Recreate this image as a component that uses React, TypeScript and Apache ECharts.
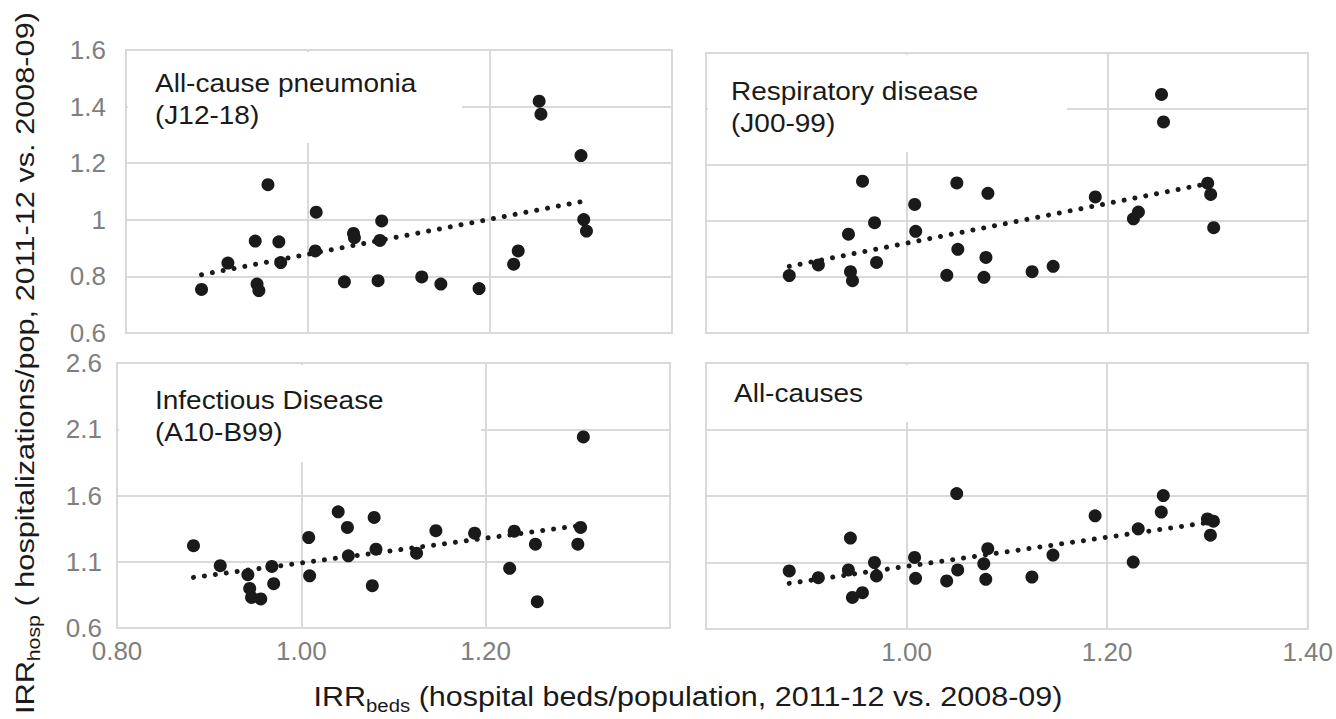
import React, { useEffect, useRef } from 'react';
import * as echarts from 'echarts';

// Shared x: IRR of hospital beds per region (2011-12 vs 2008-09)
const bedsIRR = [
  0.883, 0.912, 0.942, 0.944, 0.946, 0.956, 0.968, 0.970, 1.008, 1.009, 1.040, 1.050, 1.051,
  1.077, 1.079, 1.081, 1.125, 1.146, 1.188, 1.226, 1.231, 1.254, 1.256, 1.300, 1.303, 1.306,
];

const pneumoniaIRR = [
  0.754, 0.847, 0.925, 0.773, 0.750, 1.124, 0.922, 0.849, 0.890, 1.027, 0.781, 0.952, 0.937,
  0.785, 0.927, 0.996, 0.798, 0.773, 0.757, 0.843, 0.890, 1.419, 1.373, 1.227, 1.001, 0.960,
];

const respiratoryIRR = [
  0.805, 0.843, 0.953, 0.819, 0.787, 1.142, 0.994, 0.852, 1.059, 0.963, 0.806, 1.136, 0.899,
  0.799, 0.870, 1.099, 0.819, 0.838, 1.086, 1.008, 1.032, 1.452, 1.354, 1.135, 1.095, 0.976,
];

const infectiousIRR = [
  1.221, 1.070, 1.002, 0.899, 0.831, 0.819, 1.065, 0.934, 1.283, 0.994, 1.477, 1.359, 1.145,
  0.919, 1.434, 1.195, 1.165, 1.334, 1.316, 1.050, 1.331, 1.233, 0.799, 1.233, 1.359, 2.042,
];

const allCausesIRR = [
  1.037, 0.986, 1.044, 1.284, 0.837, 0.873, 1.100, 0.999, 1.138, 0.981, 0.961, 1.618, 1.044,
  1.090, 0.974, 1.204, 0.991, 1.156, 1.451, 1.103, 1.353, 1.479, 1.603, 1.428, 1.305, 1.411,
];

// Linear trendline endpoints
const pneumoniaTrend = [[0.883, 0.806], [1.305, 1.067]];
const respiratoryTrend = [[0.883, 0.838], [1.305, 1.137]];
const infectiousTrend = [[0.883, 0.982], [1.305, 1.376]];
const allCausesTrend = [[0.883, 0.943], [1.305, 1.405]];

const panelTitles = [
  'All-cause pneumonia\n(J12-18)',
  'Respiratory disease\n(J00-99)',
  'Infectious Disease\n(A10-B99)',
  'All-causes',
];

const xScale = { min: 0.8, max: 1.4, interval: 0.2 };
const topYScale = { min: 0.6, max: 1.6, interval: 0.2 };
const bottomYScale = { min: 0.6, max: 2.6, interval: 0.5 };

const FONT = '"Liberation Sans", Arial, sans-serif';
const GRID_COLOR = '#d9d9d9';
const LABEL_COLOR = '#7f7f7f';
const INK = '#1a1a1a';

export default function App() {
  const ref = useRef<HTMLDivElement>(null);

  useEffect(() => {
    if (!ref.current) return;
    const chart = echarts.init(ref.current, null, { renderer: 'svg' });

    const panels = [
      { ys: pneumoniaIRR, trend: pneumoniaTrend, yScale: topYScale },
      { ys: respiratoryIRR, trend: respiratoryTrend, yScale: topYScale },
      { ys: infectiousIRR, trend: infectiousTrend, yScale: bottomYScale },
      { ys: allCausesIRR, trend: allCausesTrend, yScale: bottomYScale },
    ];

    const gridBoxes = [
      { left: 126, top: 50, width: 546, height: 283 },
      { left: 706, top: 53, width: 602, height: 280 },
      { left: 117, top: 363, width: 553, height: 265 },
      { left: 706, top: 363, width: 604, height: 266 },
    ];

    const grid = gridBoxes.map((g) => ({
      ...g,
      show: true,
      borderColor: GRID_COLOR,
      borderWidth: 2,
      backgroundColor: 'transparent',
      containLabel: false,
    }));

    const splitLine = { show: true, lineStyle: { color: GRID_COLOR, width: 2 } };

    const xAxis = panels.map((_, i) => ({
      type: 'value',
      gridIndex: i,
      ...xScale,
      axisLine: { show: false },
      axisTick: { show: false },
      splitLine,
      axisLabel: {
        show: i >= 2,
        color: LABEL_COLOR,
        fontSize: 26,
        fontFamily: FONT,
        margin: 10,
        formatter: (v: number) => {
          if (i === 2 && v > 1.35) return '';
          if (i === 3 && v < 0.85) return '';
          return v.toFixed(2);
        },
      },
    }));

    const yAxis = panels.map((p, i) => ({
      type: 'value',
      gridIndex: i,
      ...p.yScale,
      axisLine: { show: false },
      axisTick: { show: false },
      splitLine,
      axisLabel: {
        show: i === 0 || i === 2,
        color: LABEL_COLOR,
        fontSize: 26,
        fontFamily: FONT,
        margin: i === 0 ? 20 : 15,
      },
    }));

    const series: any[] = [];
    panels.forEach((p, i) => {
      series.push({
        type: 'line',
        xAxisIndex: i,
        yAxisIndex: i,
        data: p.trend,
        showSymbol: false,
        symbol: 'none',
        silent: true,
        z: 2,
        lineStyle: { color: INK, width: 5, type: [0.01, 11], cap: 'round', opacity: 1 },
      });
      series.push({
        type: 'scatter',
        xAxisIndex: i,
        yAxisIndex: i,
        data: bedsIRR.map((x, k) => [x, p.ys[k]]),
        symbol: 'circle',
        symbolSize: 13,
        itemStyle: { color: INK, opacity: 1 },
        z: 3,
      });
    });

    const titleBoxes = [
      { rect: [128, 52, 334, 91], tx: 155, ty: 68 },
      { rect: [708, 55, 359, 97], tx: 731, ty: 76 },
      { rect: [119, 365, 362, 97], tx: 155, ty: 385 },
      { rect: [708, 365, 290, 57], tx: 734, ty: 378 },
    ];

    const graphicElements: any[] = [];
    titleBoxes.forEach((b, i) => {
      graphicElements.push({
        type: 'rect',
        z: 1,
        silent: true,
        shape: { x: b.rect[0], y: b.rect[1], width: b.rect[2], height: b.rect[3] },
        style: { fill: '#ffffff' },
      });
      graphicElements.push({
        type: 'text',
        z: 1,
        silent: true,
        x: b.tx,
        y: b.ty,
        scaleX: 1.12,
        style: {
          text: panelTitles[i],
          fill: INK,
          font: `25px ${FONT}`,
          lineHeight: 32,
          align: 'left',
          verticalAlign: 'top',
        },
      });
    });

    const rich = (main: number, sub: number) => ({
      m: { fontSize: main, fontFamily: FONT, fill: INK, lineHeight: 36 },
      s: { fontSize: sub, fontFamily: FONT, fill: INK, lineHeight: sub, verticalAlign: 'bottom' },
    });

    graphicElements.push({
      type: 'text',
      z: 1,
      silent: true,
      x: 688,
      y: 697,
      scaleX: 1.13,
      style: {
        text: '{m|IRR}{s|beds}{m| (hospital beds/population, 2011-12 vs. 2008-09)}',
        rich: rich(27, 18),
        align: 'center',
        verticalAlign: 'middle',
        fill: INK,
      },
    });

    graphicElements.push({
      type: 'text',
      z: 1,
      silent: true,
      x: 25,
      y: 363,
      rotation: Math.PI / 2,
      scaleX: 1.18,
      style: {
        text: '{m|IRR}{s|hosp}{m| ( hospitalizations/pop, 2011-12 vs. 2008-09)}',
        rich: rich(26, 18),
        align: 'center',
        verticalAlign: 'middle',
        fill: INK,
      },
    });

    chart.setOption({
      animation: false,
      backgroundColor: '#ffffff',
      textStyle: { fontFamily: FONT },
      grid,
      xAxis,
      yAxis,
      series,
      graphic: { elements: graphicElements },
    });

    return () => {
      chart.dispose();
    };
  }, []);

  return (
    <div
      ref={ref}
      style={{ position: 'absolute', left: 0, top: 0, width: 1336, height: 719 }}
    />
  );
}
